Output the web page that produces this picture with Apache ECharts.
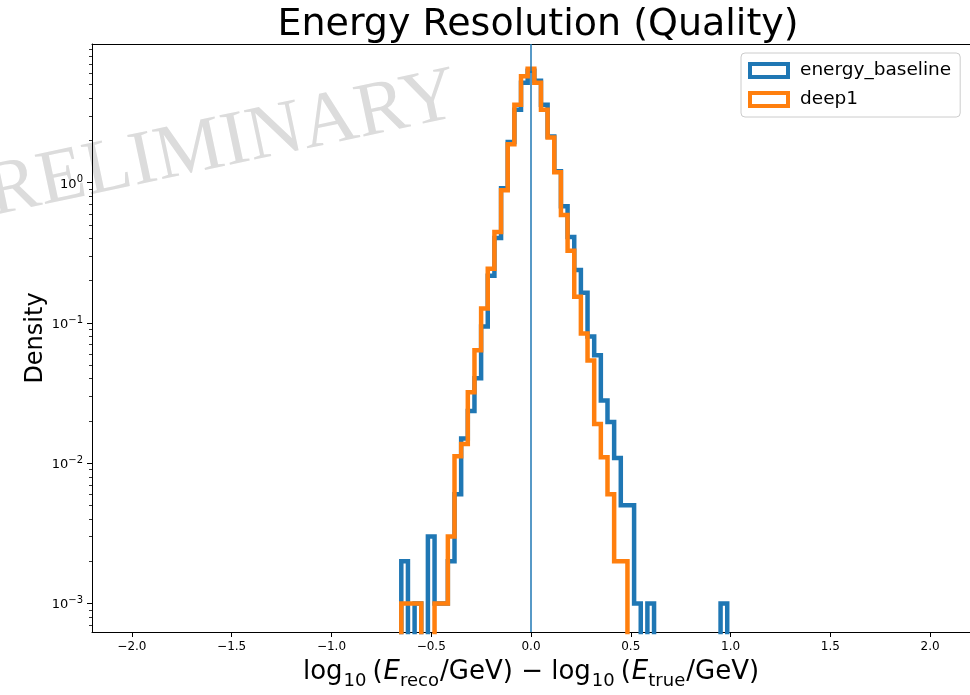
<!DOCTYPE html>
<html>
<head>
<meta charset="utf-8">
<script src="https://cdn.jsdelivr.net/npm/echarts@6/dist/echarts.min.js"></script>
<style>
  html, body { margin: 0; padding: 0; background: #ffffff; }
  #chart { width: 970px; height: 695px; }
</style>
</head>
<body>
<div id="chart"></div>
<script>
// Histogram binning: bins are BIN_WIDTH wide and centred on index * BIN_WIDTH
const BIN_WIDTH = 1 / 30;
const FIRST_BIN = -20;   // index of the first bin listed in each density array

// Normalised densities per bin, starting at FIRST_BIN
const energyBaseline = [
  0, 0.002, 0, 0.001, 0, 0.003, 0.001, 0.001, 0.002, 0.006,          // -20 .. -11
  0.015, 0.0236, 0.0404, 0.0944, 0.217, 0.404, 0.914, 1.95, 3.32, 5.16, // -10 .. -1
  6.3, 5.33, 3.6, 2.14, 1.21, 0.68, 0.41, 0.239, 0.164, 0.080,       //   0 .. 9
  0.0589, 0.028, 0.0197, 0.0109, 0.005, 0.005, 0.001, 0, 0.001, 0,   //  10 .. 19
  0, 0, 0, 0, 0, 0, 0, 0, 0, 0.001,                                   //  20 .. 29
  0                                                                   //  30
];
const deep1 = [
  0, 0.001, 0.001, 0.001, 0, 0, 0.001, 0.001, 0.003, 0.0112,         // -20 .. -11
  0.0137, 0.0321, 0.0638, 0.127, 0.244, 0.446, 0.885, 1.88, 3.6, 5.74, // -10 .. -1
  6.49, 5.16, 3.32, 2.10, 1.19, 0.588, 0.327, 0.154, 0.084, 0.054,   //   0 .. 9
  0.019, 0.011, 0.006, 0.002, 0.002, 0                                //  10 .. 15
];

const seriesNames = ['energy_baseline', 'deep1'];
const seriesColors = ['#1f77b4', '#ff7f0e'];

const xTickValues = [-2, -1.5, -1, -0.5, 0, 0.5, 1, 1.5, 2];
const yTickValues = [0.001, 0.01, 0.1, 1];
const yMinorTickValues = [
  0.0007, 0.0008, 0.0009,
  0.002, 0.003, 0.004, 0.005, 0.006, 0.007, 0.008, 0.009,
  0.02, 0.03, 0.04, 0.05, 0.06, 0.07, 0.08, 0.09,
  0.2, 0.3, 0.4, 0.5, 0.6, 0.7, 0.8, 0.9,
  2, 3, 4, 5, 6, 7, 8, 9
];
const X_RANGE = [-2.2, 2.2];
const Y_RANGE = [6.25e-4, 9.76];

// Empty bins sit far below the log axis floor so the outline drops out of the plot
const EMPTY_BIN = 1e-9;

function stepOutline(densities) {
  const pts = densities.map((v, i) => [
    (FIRST_BIN + i - 0.5) * BIN_WIDTH,
    v > 0 ? v : EMPTY_BIN
  ]);
  const last = densities[densities.length - 1];
  pts.push([(FIRST_BIN + densities.length - 0.5) * BIN_WIDTH, last > 0 ? last : EMPTY_BIN]);
  return pts;
}

// "10" with a raised exponent, e.g. 10^-2
function powerLabel(v) {
  const e = Math.round(Math.log10(v));
  return '{b|10}{e|' + (e < 0 ? '\u2212' + (-e) : String(e)) + '}';
}
function xLabel(v) {
  return (v < 0 ? '\u2212' : '') + Math.abs(v).toFixed(1);
}

const FONT = 'DejaVu Sans';
const chart = echarts.init(document.getElementById('chart'), null, { renderer: 'canvas' });

const histSeries = [energyBaseline, deep1].map((d, k) => ({
  name: seriesNames[k],
  type: 'line',
  step: 'end',
  data: stepOutline(d),
  xAxisIndex: 0,
  yAxisIndex: 0,
  symbol: 'none',
  showSymbol: false,
  clip: true,
  z: 2 + k,
  lineStyle: { color: seriesColors[k], width: 4.5, join: 'miter', cap: 'butt' },
  itemStyle: { color: seriesColors[k] },
  emphasis: { disabled: true }
}));

chart.setOption({
  animation: false,
  backgroundColor: '#ffffff',
  textStyle: { fontFamily: FONT },
  title: {
    text: 'Energy Resolution (Quality)',
    left: 533,
    top: 1,
    textAlign: 'center',
    textStyle: { fontFamily: FONT, fontSize: 38, fontWeight: 'normal', color: '#000' }
  },
  grid: { left: 92, right: -1, top: 44, bottom: 60, containLabel: false },
  legend: {
    orient: 'vertical',
    left: 741,
    top: 53,
    itemWidth: 38,
    itemHeight: 13,
    itemGap: 10,
    padding: [8, 9, 8, 7],
    backgroundColor: 'rgba(255,255,255,0.8)',
    borderColor: '#cccccc',
    borderWidth: 1,
    borderRadius: 4,
    textStyle: { fontFamily: FONT, fontSize: 18.5, color: '#000', padding: [0, 0, 0, 7] },
    data: seriesNames.map((n, k) => ({
      name: n,
      icon: 'rect',
      itemStyle: { color: '#ffffff', borderColor: seriesColors[k], borderWidth: 4 }
    })),
    selectedMode: false
  },
  xAxis: [
    {
      type: 'value',
      min: X_RANGE[0], max: X_RANGE[1],
      position: 'bottom',
      name: '{n|log}{s|10}{p|(}{i|E}{s|reco}{n|/GeV) \u2212 log}{s|10}{p|(}{i|E}{s|true}{n|/GeV)}',
      nameLocation: 'middle',
      nameGap: 22,
      nameTextStyle: {
        rich: {
          n: { fontFamily: FONT, fontSize: 26, color: '#000', lineHeight: 36, padding: [0, 1, 0, 1] },
          p: { fontFamily: FONT, fontSize: 26, color: '#000', lineHeight: 36, padding: [0, 1, 0, 6] },
          i: { fontFamily: FONT, fontSize: 26, color: '#000', fontStyle: 'italic', lineHeight: 36 },
          s: { fontFamily: FONT, fontSize: 18, color: '#000', lineHeight: 18, verticalAlign: 'bottom' }
        }
      },
      axisLine: { show: true, onZero: false, lineStyle: { color: '#000', width: 1 } },
      axisTick: { show: true, inside: false, length: 5, customValues: xTickValues, lineStyle: { color: '#000', width: 1 } },
      axisLabel: { show: true, margin: 9, customValues: xTickValues, formatter: xLabel,
                   fontFamily: FONT, fontSize: 12, color: '#000' },
      splitLine: { show: false }
    },
    {
      type: 'value',
      min: X_RANGE[0], max: X_RANGE[1],
      position: 'top',
      axisLine: { show: true, onZero: false, lineStyle: { color: '#000', width: 1 } },
      axisTick: { show: false },
      axisLabel: { show: false },
      splitLine: { show: false }
    }
  ],
  yAxis: [
    {
      type: 'log',
      logBase: 10,
      min: Y_RANGE[0], max: Y_RANGE[1],
      position: 'left',
      name: 'Density',
      nameLocation: 'middle',
      nameGap: 44,
      nameMoveOverlap: false,
      nameRotate: 90,
      nameTextStyle: { fontFamily: FONT, fontSize: 24, color: '#000' },
      axisLine: { show: true, onZero: false, lineStyle: { color: '#000', width: 1 } },
      axisTick: { show: true, inside: false, length: 5, customValues: yTickValues, lineStyle: { color: '#000', width: 1 } },
      axisLabel: {
        show: true, margin: 9, customValues: yTickValues, formatter: powerLabel,
        rich: {
          b: { fontFamily: FONT, fontSize: 13, color: '#000', lineHeight: 16, verticalAlign: 'bottom' },
          e: { fontFamily: FONT, fontSize: 10, color: '#000', lineHeight: 10, verticalAlign: 'top' }
        }
      },
      splitLine: { show: false },
      minorTick: { show: false }
    },
    {
      type: 'log',
      logBase: 10,
      min: Y_RANGE[0], max: Y_RANGE[1],
      position: 'left',
      offset: 0,
      axisLine: { show: false, onZero: false },
      axisTick: { show: true, inside: false, length: 3, customValues: yMinorTickValues, lineStyle: { color: '#000', width: 0.8 } },
      axisLabel: { show: false },
      splitLine: { show: false }
    }
  ],
  graphic: [
    {
      type: 'text',
      x: 202,
      y: 150,
      rotation: 12 * Math.PI / 180,
      z: -10,
      silent: true,
      style: {
        text: 'PRELIMINARY',
        fontFamily: 'Liberation Serif',
        fontSize: 77,
        fill: '#dcdcdc',
        textAlign: 'center', align: 'center',
        textVerticalAlign: 'middle', verticalAlign: 'middle'
      }
    }
  ],
  series: histSeries.concat([{
    name: 'zero',
    type: 'line',
    data: [],
    z: 5,
    symbol: 'none',
    markLine: {
      silent: true,
      symbol: ['none', 'none'],
      label: { show: false },
      lineStyle: { color: '#1f77b4', width: 1.5, type: 'solid' },
      emphasis: { disabled: true },
      data: [{ xAxis: 0 }]
    }
  }])
});
</script>
</body>
</html>
